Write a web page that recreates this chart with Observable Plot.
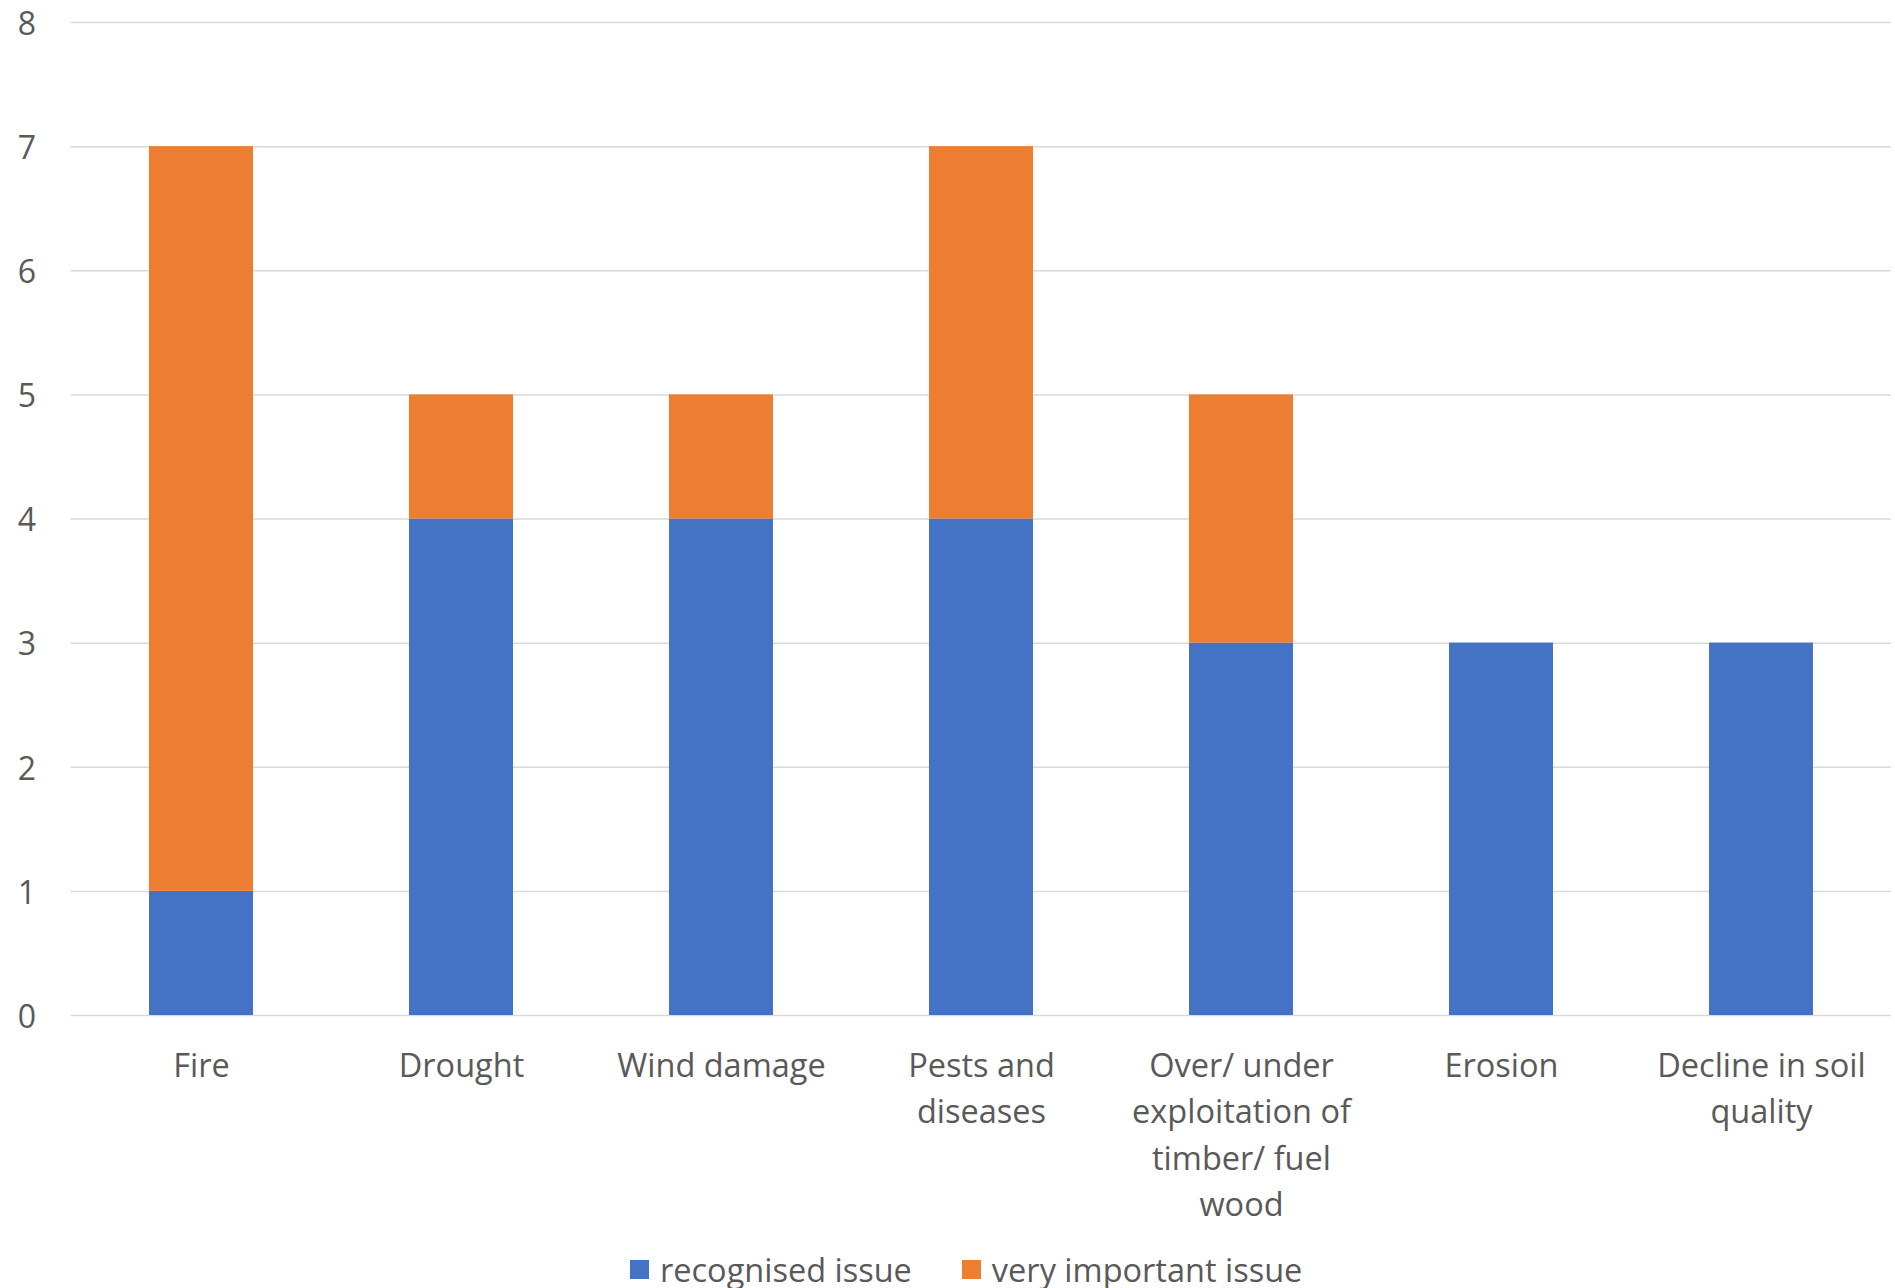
<!DOCTYPE html>
<html>
<head>
<meta charset="utf-8">
<script src="https://cdn.jsdelivr.net/npm/d3@7"></script>
<script src="https://cdn.jsdelivr.net/npm/@observablehq/plot@0.6"></script>
<style>
  html, body { margin: 0; padding: 0; background: #fff; }
  body { width: 1895px; height: 1288px; overflow: hidden; font-family: "Open Sans", sans-serif; }
  #legend { height: 48px; display: flex; align-items: center; padding-left: 630px; font-size: 32.5px; color: #595959; }
  .item { display: flex; align-items: center; margin-right: 50px; }
  .sw { width: 19px; height: 19px; margin-right: 11px; }
</style>
</head>
<body>
<div id="chart"></div>
<div id="legend"></div>
<script>
const categories = ["Fire", "Drought", "Wind damage", "Pests and diseases", "Over/ under exploitation of timber/ fuel wood", "Erosion", "Decline in soil quality"];
const tickLabels = ["Fire", "Drought", "Wind damage", "Pests and\ndiseases", "Over/ under\nexploitation of\ntimber/ fuel\nwood", "Erosion", "Decline in soil\nquality"];
const seriesNames = ["recognised issue", "very important issue"];
const recognised = [1, 4, 4, 4, 3, 3, 3];
const veryImportant = [6, 1, 1, 3, 2, 0, 0];
const colors = ["#4472C4", "#ED7D31"];
const yTicks = [0, 1, 2, 3, 4, 5, 6, 7, 8];

const data = [];
categories.forEach((c, i) => {
  data.push({category: c, series: seriesNames[0], value: recognised[i]});
  data.push({category: c, series: seriesNames[1], value: veryImportant[i]});
});
const labelMap = new Map(categories.map((c, i) => [c, tickLabels[i]]));

const chart = Plot.plot({
  width: 1895,
  height: 1245,
  marginTop: 22,
  marginBottom: 230,
  marginLeft: 70.6,
  marginRight: 4,
  style: {fontFamily: "Open Sans, sans-serif", fontSize: "32px", color: "#595959", background: "#fff"},
  x: {domain: categories, paddingInner: 0.6, paddingOuter: 0.3, align: 0.5, label: null},
  y: {domain: [0, 8], label: null},
  color: {domain: seriesNames, range: colors},
  marks: [
    Plot.gridY(yTicks, {stroke: "#D9D9D9", strokeOpacity: 1, strokeWidth: 1.5}),
    Plot.barY(data, {x: "category", y: "value", fill: "series", order: seriesNames}),
    Plot.axisY(yTicks, {tickSize: 0, tickPadding: 35, fill: "#595959", fontSize: 32, dy: 2, tickFormat: d => String(d), label: null}),
    Plot.axisX({tickSize: 0, tickPadding: 29, fill: "#595959", fontSize: 32.5, lineHeight: 1.42, tickFormat: d => labelMap.get(d), label: null})
  ]
});
document.getElementById("chart").appendChild(chart);

const legend = document.getElementById("legend");
seriesNames.forEach((s, i) => {
  const item = document.createElement("div");
  item.className = "item";
  const sw = document.createElement("div");
  sw.className = "sw";
  sw.style.background = colors[i];
  const t = document.createElement("span");
  t.textContent = s;
  item.appendChild(sw);
  item.appendChild(t);
  legend.appendChild(item);
});
</script>
</body>
</html>
